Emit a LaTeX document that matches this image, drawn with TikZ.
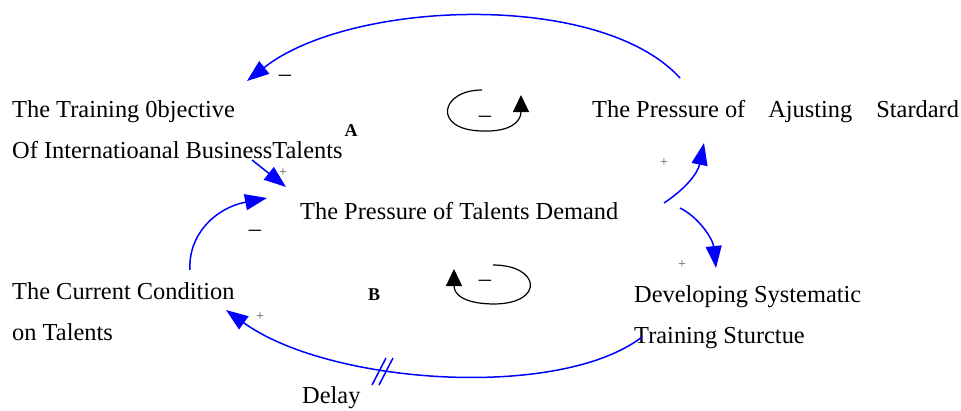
\documentclass[tikz,border=0pt]{standalone}
\usepackage{fontspec}
\setmainfont{Liberation Serif}
\usetikzlibrary{arrows.meta,positioning}

\begin{document}
\begin{tikzpicture}[
        x=1pt, y=-1pt,
        font=\fontsize{24.4}{41}\selectfont,
        var/.style={anchor=base west, align=left, inner sep=0pt},
        tag/.style={font=\fontsize{18}{18}\selectfont\bfseries, inner sep=0pt},
        plus/.style={font=\fontsize{14}{14}\selectfont, text=black!65, inner sep=0pt},
        minus/.style={inner sep=0pt},
        link/.style={-{Triangle[length=22pt,width=16pt]}, blue, line width=1.5pt},
        turn/.style={-{Triangle[length=17pt,width=16pt]}, black, line width=1.2pt}
    ]
    \useasboundingbox (0,0) rectangle (961,410);

    % Variables (base = last line)
    \node[var] (objective) at (12,158) {The Training 0bjective\\Of Internatioanal BusinessTalents};
    \node[var] (adjust) at (592,117) {The Pressure of\hspace{23pt}Ajusting\hspace{24pt}Stardard};
    \node[var] (demand) at (300,219) {The Pressure of Talents Demand};
    \node[var] (condition) at (12,340) {The Current Condition\\on Talents};
    \node[var] (training) at (634,343) {Developing Systematic\\Training Sturctue};
    \node[var] (delay) at (302,403) {Delay};

    \node[tag] (loopA) at (351,131) {A};
    \node[tag] (loopB) at (374,295) {B};

    % Ends of the links
    \coordinate (adjust-out) at (680,78);
    \coordinate (objective-in) at (247,81);
    \coordinate (objective-out) at (252,160);
    \coordinate (demand-in1) at (286,187);
    \coordinate (condition-out) at (190,270);
    \coordinate (demand-in2) at (267,198);
    \coordinate (demand-out1) at (664,203);
    \coordinate (adjust-in) at (704,143);
    \coordinate (demand-out2) at (680,208);
    \coordinate (training-in) at (716,268);
    \coordinate (training-out) at (642,337);
    \coordinate (condition-in) at (226,310);
    \coordinate (delaymark) at (383,371);

    % Links
    \draw[link] (adjust-out) .. controls (600,-10) and (350,0) .. (objective-in);
    \draw[link] (objective-out) -- (demand-in1);
    \draw[link] (condition-out) .. controls (188,235) and (215,208) .. (demand-in2);
    \draw[link] (demand-out1) .. controls (688,187) and (698,172) .. (adjust-in);
    \draw[link] (demand-out2) .. controls (700,218) and (713,240) .. (training-in);
    \draw[link] (training-out) .. controls (560,400) and (330,385) .. (condition-in);
    \draw[blue, line width=1.5pt, shift={(delaymark)}]
        (-11,14) -- (3,-13) (-4,14) -- (10,-13);

    % Polarities
    \node[minus] (m1) at (285,78) {--};
    \node[minus] (m2) at (255,233) {--};
    \node[plus] (p1) at (283,173) {+};
    \node[plus] (p2) at (664,163) {+};
    \node[plus] (p3) at (682,265) {+};
    \node[plus] (p4) at (260,317) {+};

    % Loop signs
    \draw[turn] (482,90) .. controls (440,90) and (432,130) .. (482,131)
        .. controls (510,132) and (521,122) .. (521,95);
    \node[minus] (m3) at (485,119) {--};
    \draw[turn] (493,265) .. controls (540,265) and (545,303) .. (495,304)
        .. controls (465,304) and (454,295) .. (454,269);
    \node[minus] (m4) at (485,283) {--};

\end{tikzpicture}
\end{document}
